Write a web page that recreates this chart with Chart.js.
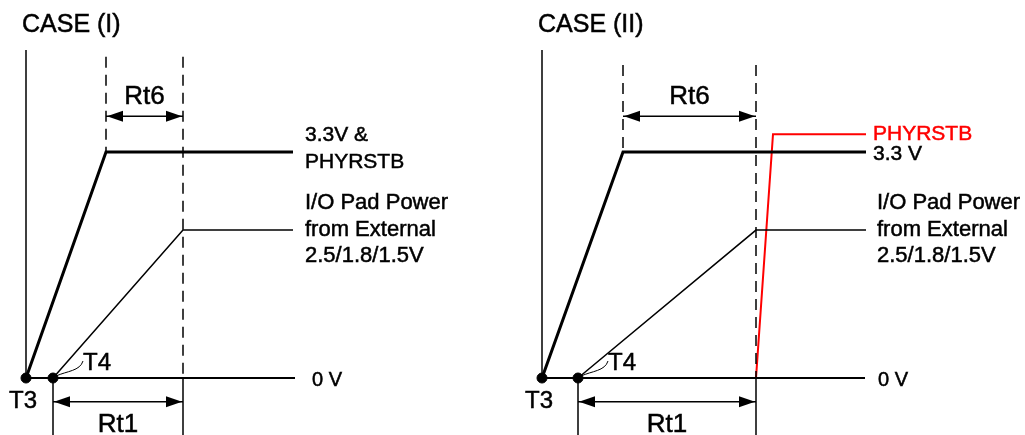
<!DOCTYPE html>
<html>
<head>
<meta charset="utf-8">
<script src="https://cdn.jsdelivr.net/npm/chart.js@4.4.1/dist/chart.umd.min.js"></script>
<style>
    html, body { margin: 0; padding: 0; background: #fff; }
    #wrap { position: relative; width: 1025px; height: 435px; }
    canvas { position: absolute; top: 0; }
    #case1 { left: 0; }
    #case2 { left: 512px; }
</style>
</head>
<body>
<div id="wrap">
    <canvas id="case1" width="512" height="435"></canvas>
    <canvas id="case2" width="513" height="435"></canvas>
</div>
<script>
// Time (arbitrary units, T3 = 0) and voltage readings for each case
const CASE1_VDD33_T = [0, 80, 267];
const CASE1_VDD33_V = [0, 3.3, 3.3];
const CASE1_IO_T = [27, 157, 267];
const CASE1_IO_V = [0, 2.16, 2.16];
const CASE1_MARKS = [0, 27, 80, 157, 269];   // T3, T4, Rt6 start, Rt6/Rt1 end, trace end

const CASE2_VDD33_T = [0, 81, 324];
const CASE2_VDD33_V = [0, 3.3, 3.3];
const CASE2_IO_T = [36, 214, 324];
const CASE2_IO_V = [0, 2.16, 2.16];
const CASE2_RST_T = [214, 231, 324];
const CASE2_RST_V = [0, 3.56, 3.56];
const CASE2_MARKS = [0, 36, 81, 214, 323];

const FONT = '"Liberation Sans", Arial, sans-serif';

// vertical extents of the drawing, in volts
const Y_MIN = -0.832;
const Y_MAX = 5.519;
const AXIS_TOP = 4.79;
const RT6_LEVEL = 3.82;
const RT1_LEVEL = -0.345;

function pts(ts, vs) {
    return ts.map((t, i) => ({ x: t, y: vs[i] }));
}

function seg(x1, y1, x2, y2) {
    return [{ x: x1, y: y1 }, { x: x2, y: y2 }];
}

function line(data, width, extra) {
    return Object.assign({
        data: data,
        showLine: true,
        borderColor: '#000',
        borderWidth: width,
        pointRadius: 0,
        fill: false,
        clip: false
    }, extra || {});
}

function arrowHead(ctx, x, y, dir) {
    ctx.beginPath();
    ctx.moveTo(x, y);
    ctx.lineTo(x - dir * 16, y - 5.5);
    ctx.lineTo(x - dir * 16, y + 5.5);
    ctx.closePath();
    ctx.fill();
}

// slightly heavier text, closer to the original drawing
function text(ctx, str, x, y, size, color, align) {
    ctx.font = `${size}px ${FONT}`;
    ctx.fillStyle = color || '#000';
    ctx.strokeStyle = color || '#000';
    ctx.lineWidth = 0.5;
    ctx.textAlign = align || 'left';
    ctx.textBaseline = 'alphabetic';
    ctx.fillText(str, x, y);
    ctx.strokeText(str, x, y);
}

function makePanel(id, cfg) {
    const [t3, t4, rt6Start, rtEnd, traceEnd] = cfg.marks;

    const datasets = [
        line(seg(t3, AXIS_TOP, t3, 0), 1.5),
        line(seg(t3, 0, traceEnd, 0), 2),
        line(pts(cfg.vddT, cfg.vddV), 3),
        line(pts(cfg.ioT, cfg.ioV), 1.5),
        line(seg(rt6Start, cfg.dashTop, rt6Start, 3.3), 1.5, { borderDash: [11, 7] }),
        line(seg(rtEnd, cfg.dashTop, rtEnd, 0), 1.5, { borderDash: [11, 7] }),
        line(seg(t4, 0, t4, Y_MIN), 1.5),
        line(seg(rtEnd, 0, rtEnd, Y_MIN), 1.5),
        line(seg(rt6Start, RT6_LEVEL, rtEnd, RT6_LEVEL), 1.5),
        line(seg(t4, RT1_LEVEL, rtEnd, RT1_LEVEL), 1.5)
    ];
    if (cfg.rstT) {
        datasets.push(line(pts(cfg.rstT, cfg.rstV), 2, { borderColor: '#ff0000' }));
    }
    datasets.push({
        data: [{ x: t3, y: 0 }, { x: t4, y: 0 }],
        showLine: false,
        pointRadius: 5,
        pointBackgroundColor: '#000',
        pointBorderColor: '#000',
        clip: false
    });

    const annotations = {
        id: 'annotations',
        afterDatasetsDraw(chart) {
            const ctx = chart.ctx;
            const px = v => chart.scales.x.getPixelForValue(v);
            const py = v => chart.scales.y.getPixelForValue(v);
            ctx.save();
            ctx.fillStyle = '#000';

            arrowHead(ctx, px(rt6Start) + 1, py(RT6_LEVEL), -1);
            arrowHead(ctx, px(rtEnd) - 1, py(RT6_LEVEL), 1);
            arrowHead(ctx, px(t4) + 1, py(RT1_LEVEL), -1);
            arrowHead(ctx, px(rtEnd) - 1, py(RT1_LEVEL), 1);

            text(ctx, cfg.title, cfg.titleX, 32, 25);
            text(ctx, 'Rt6', (px(rt6Start) + px(rtEnd)) / 2, py(RT6_LEVEL) - 12, 26, '#000', 'center');
            text(ctx, 'Rt1', (px(t4) + px(rtEnd)) / 2, 432, 26, '#000', 'center');

            text(ctx, 'T3', px(t3) - 17, py(0) + 30, 24);
            text(ctx, 'T4', px(t4) + 30, py(0) - 8, 24);

            // leader from the T4 dot to its label
            ctx.strokeStyle = '#000';
            ctx.lineWidth = 1;
            ctx.beginPath();
            ctx.moveTo(px(t4) + 3, py(0) - 2);
            ctx.bezierCurveTo(px(t4) + 14, py(0) - 7, px(t4) + 27, py(0) - 7, px(t4) + 30, py(0) - 17);
            ctx.stroke();

            const lx = px(traceEnd);
            text(ctx, '0 V', lx + cfg.zeroGap, py(0) + 8, 20);
            const ioX = px(cfg.ioT[cfg.ioT.length - 1]) + cfg.ioGap;
            const ioY = py(cfg.ioV[cfg.ioV.length - 1]);
            text(ctx, 'I/O Pad Power', ioX, ioY - 21, 22);
            text(ctx, 'from External', ioX, ioY + 5.5, 22);
            text(ctx, '2.5/1.8/1.5V', ioX, ioY + 31.5, 22);

            const vx = px(cfg.vddT[cfg.vddT.length - 1]);
            if (cfg.rstT) {
                text(ctx, 'PHYRSTB', vx + 7, py(cfg.rstV[cfg.rstV.length - 1]) + 6, 21, '#ff0000');
                text(ctx, '3.3 V', vx + 7, py(3.3) + 8, 21);
            } else {
                text(ctx, '3.3V &', vx + 12, py(3.3) - 11, 21);
                text(ctx, 'PHYRSTB', vx + 12, py(3.3) + 16, 21);
            }
            ctx.restore();
        }
    };

    return new Chart(document.getElementById(id), {
        type: 'scatter',
        data: { datasets: datasets },
        options: {
            responsive: false,
            animation: false,
            devicePixelRatio: 1,
            layout: { padding: 0, autoPadding: false },
            plugins: {
                legend: { display: false },
                tooltip: { enabled: false }
            },
            scales: {
                x: { type: 'linear', display: false, min: -cfg.leftPx, max: cfg.width - cfg.leftPx },
                y: { type: 'linear', display: false, min: Y_MIN, max: Y_MAX }
            }
        },
        plugins: [annotations]
    });
}

makePanel('case1', {
    title: 'CASE (I)', titleX: 22,
    width: 512, leftPx: 26,
    marks: CASE1_MARKS,
    vddT: CASE1_VDD33_T, vddV: CASE1_VDD33_V,
    ioT: CASE1_IO_T, ioV: CASE1_IO_V,
    dashTop: 4.69, zeroGap: 17, ioGap: 12
});

makePanel('case2', {
    title: 'CASE (II)', titleX: 26,
    width: 513, leftPx: 30,
    marks: CASE2_MARKS,
    vddT: CASE2_VDD33_T, vddV: CASE2_VDD33_V,
    ioT: CASE2_IO_T, ioV: CASE2_IO_V,
    rstT: CASE2_RST_T, rstV: CASE2_RST_V,
    dashTop: 4.57, zeroGap: 13, ioGap: 11
});
</script>
</body>
</html>
